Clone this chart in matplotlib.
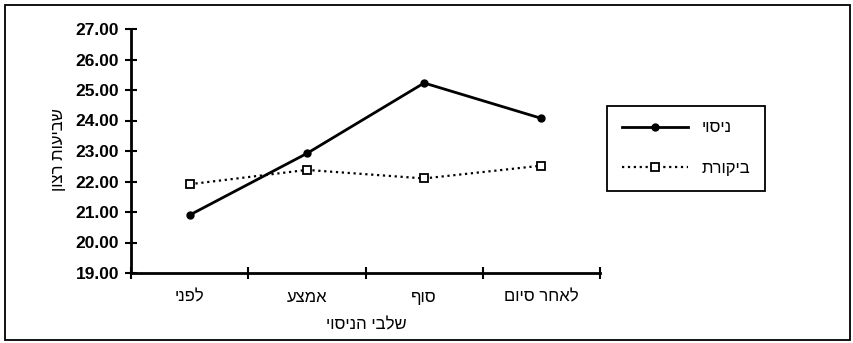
import matplotlib.pyplot as plt
from matplotlib.patches import Rectangle


def heb(s):
    # matplotlib has no bidi support, so lay Hebrew out right-to-left by hand
    return s[::-1]


# data
stages = ['לפני', 'אמצע', 'סוף', 'לאחר סיום']
experiment = [20.90, 22.92, 25.23, 24.07]
control = [21.91, 22.38, 22.10, 22.52]
y_ticks = [19, 20, 21, 22, 23, 24, 25, 26, 27]

plt.rcParams['font.family'] = ['Liberation Sans', 'DejaVu Sans']

W, H = 854, 343
fig = plt.figure(figsize=(W / 100, H / 100), dpi=100)
ax = fig.add_axes([131 / W, 1 - 273 / H, (600 - 131) / W, (273 - 29) / H])

x = range(len(stages))
ax.plot(x, experiment, '-', color='black', lw=2.0, marker='o', ms=5,
        label=heb('ניסוי'))
ax.plot(x, control, ':', color='black', lw=1.6, marker='s', ms=5.5,
        mfc='white', mew=1.3, label=heb('ביקורת'))

ax.set_xlim(-0.5, len(stages) - 0.5)
ax.set_ylim(19, 27)
ax.set_yticks(y_ticks)
ax.set_yticklabels(['%.2f' % v for v in y_ticks], fontsize=12.5,
                   fontweight='bold')
ax.set_xticks(list(x))
ax.set_xticklabels([heb(s) for s in stages], fontsize=12)
ax.set_xticks([i - 0.5 for i in range(len(stages) + 1)], minor=True)
ax.tick_params(axis='x', which='major', length=0, pad=12)
ax.tick_params(axis='x', which='minor', direction='inout', length=8,
               width=1.5)
ax.tick_params(axis='y', direction='inout', length=9, width=1.5, pad=4)

for side in ['top', 'right']:
    ax.spines[side].set_visible(False)
for side in ['left', 'bottom']:
    ax.spines[side].set_linewidth(2.0)

fig.text(58 / W, 1 - 150 / H, heb('שביעות רצון'), rotation=90,
         ha='center', va='center', fontsize=12)
fig.text(366 / W, 1 - 325 / H, heb('שלבי הניסוי'),
         ha='center', va='center', fontsize=12)

leg = ax.legend(loc='center', bbox_to_anchor=(686 / W, 1 - 148 / H),
                bbox_transform=fig.transFigure, fontsize=12,
                handlelength=4.0, labelspacing=1.5, borderpad=0.9,
                handletextpad=0.8, fancybox=False, framealpha=1)
leg.get_frame().set_edgecolor('black')
leg.get_frame().set_linewidth(1.3)

# outer chart border
fig.patches.append(Rectangle((5 / W, 1 - 340 / H), 845 / W, 335 / H,
                             transform=fig.transFigure, fill=False,
                             edgecolor='black', lw=1.3))

fig.savefig('out.png', dpi=100)
